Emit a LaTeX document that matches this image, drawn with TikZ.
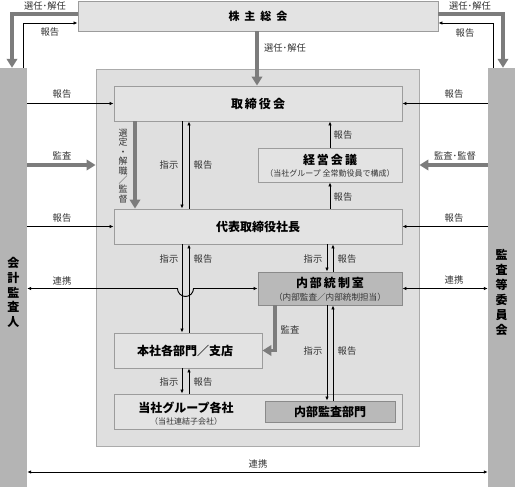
\documentclass[tikz,border=0pt]{standalone}
\usepackage{fontspec}
\setmainfont{Noto Sans CJK JP}
\usetikzlibrary{arrows.meta,calc}
\definecolor{barfill}{HTML}{B4B4B4}
\definecolor{contfill}{HTML}{DFDFDF}
\definecolor{contline}{HTML}{ABABAB}
\definecolor{boxfill}{HTML}{E3E3E3}
\definecolor{boxline}{HTML}{9C9C9C}
\definecolor{darkfill}{HTML}{B9B9B9}
\definecolor{darkline}{HTML}{8A8A8A}
\definecolor{thickgray}{HTML}{7C7C7C}
\definecolor{lbl}{HTML}{333333}
\tikzset{
  box/.style={draw=boxline,fill=boxfill,line width=0.9pt,inner sep=0pt},
  darkbox/.style={draw=darkline,fill=darkfill,line width=0.9pt,inner sep=0pt},
  bar/.style={fill=barfill,inner sep=0pt},
  title/.style={font=\fontsize{12}{14}\selectfont\bfseries,text=black},
  lab/.style={font=\fontsize{9.3}{10}\selectfont,text=lbl,inner sep=0pt},
  sub/.style={font=\fontsize{8}{9}\selectfont,text=lbl,inner sep=0pt},
  thinarr/.style={line width=0.9pt,-{Latex[length=4pt,width=3.5pt]}},
  twoarr/.style={line width=0.9pt,{Latex[length=4pt,width=3.5pt]}-{Latex[length=4pt,width=3.5pt]}},
  thickarr/.style={draw=thickgray,line width=3.6pt,-{Triangle[length=9pt,width=10.5pt]}},
}
\begin{document}
\begin{tikzpicture}[x=1pt,y=-1pt]
\useasboundingbox (0,0) rectangle (515,487);
% bars and container
\node[bar,minimum width=27,minimum height=419] (leftbar) at (13.5,277.5) {};
\node[bar,minimum width=27,minimum height=419] (rightbar) at (501.5,277.5) {};
\node[draw=contline,fill=contfill,line width=0.9pt,minimum width=323,minimum height=377] (cont) at (257.5,257.5) {};
\node[font=\fontsize{12}{14.8}\selectfont\bfseries,align=center,inner sep=0pt] at (13.5,292.5) {会\\計\\監\\査\\人};
\node[font=\fontsize{12}{15}\selectfont\bfseries,align=center,inner sep=0pt] at (501.5,292.5) {監\\査\\等\\委\\員\\会};
% boxes
\node[box,minimum width=360,minimum height=30] (share) at (258,16) {};
\node[font=\fontsize{11}{13}\selectfont\bfseries] at (258,16) {株\hspace{5pt}主\hspace{5pt}総\hspace{5pt}会};
\node[box,minimum width=288,minimum height=35] (board) at (258,103.5) {};
\node[title] at (258,103.5) {取\hspace{2pt}締\hspace{2pt}役\hspace{2pt}会};
\node[box,minimum width=144,minimum height=34] (mgmt) at (330,165) {};
\node[title] at (330,160) {経\hspace{2pt}営\hspace{2pt}会\hspace{2pt}議};
\node[sub] at (330,173.5) {（当社グループ 全常勤役員で構成）};
\node[box,minimum width=288,minimum height=35] (pres) at (258,226.5) {};
\node[title] at (258,226.5) {代表取締役社長};
\node[darkbox,minimum width=144,minimum height=33] (ic) at (330,288.5) {};
\node[title] at (330,283) {内\hspace{2pt}部\hspace{2pt}統\hspace{2pt}制\hspace{2pt}室};
\node[sub,font=\fontsize{8.6}{9}\selectfont] at (330,297) {（内部監査／内部統制担当）};
\node[box,minimum width=148,minimum height=35] (hq) at (188,350.5) {};
\node[title] at (185,350.5) {本社各部門／支店};
\node[box,minimum width=288,minimum height=35] (grp) at (258,411.5) {};
\node[title] at (186,407.5) {当社グループ各社};
\node[sub] at (186,421.5) {（当社連結子会社）};
\node[darkbox,minimum width=130,minimum height=21] (ia) at (330,411.5) {};
\node[title] at (330,411.5) {内部監査部門};
% reference coordinates
\coordinate (xa) at (182,0);
\coordinate (xb) at (189,0);
\coordinate (xc) at (327,0);
\coordinate (xd) at (333,0);
\coordinate (xs) at (135,0);
\coordinate (xm) at (275,0);
\coordinate (yb) at (0,472);
\coordinate (jmp) at (185.5,0);
% top arrows
\draw[thickarr] ([yshift=2pt]share.west) -| ([xshift=-1.5pt]leftbar.north);
\draw[thinarr] ([xshift=9.5pt]leftbar.north) |- ([yshift=-7pt]share.west);
\draw[thickarr] ([yshift=2pt]share.east) -| ([xshift=1.5pt]rightbar.north);
\draw[thinarr] ([xshift=-8.5pt]rightbar.north) |- ([yshift=-7pt]share.east);
\draw[thickarr] ([xshift=-1pt]share.south) -- ([xshift=-1pt]board.north);
\node[lab] at (45,6) {選任･解任};
\node[lab] at (50,32) {報告};
\node[lab] at (470,6) {選任･解任};
\node[lab] at (465,33) {報告};
\node[lab] at (285,48) {選任･解任};
% left bar arrows
\draw[thinarr] (leftbar.east |- board.west) -- (board.west);
\draw[thickarr] (leftbar.east |- mgmt.west) -- (cont.west |- mgmt.west);
\draw[thinarr] (leftbar.east |- pres.west) -- (pres.west);
\node[lab] at (62,94) {報告};
\node[lab] at (62,156) {監査};
\node[lab] at (62,218) {報告};
% right bar arrows
\draw[thinarr] (rightbar.west |- board.east) -- (board.east);
\draw[thickarr] (rightbar.west |- mgmt.east) -- (cont.east |- mgmt.east);
\draw[thinarr] (rightbar.west |- pres.east) -- (pres.east);
\node[lab] at (454,94) {報告};
\node[lab] at (455,156) {監査･監督};
\node[lab] at (454,218) {報告};
% board <-> president
\draw[thickarr] (board.south -| xs) -- (pres.north -| xs);
\node[lab,align=center,font=\fontsize{9}{9.4}\selectfont] at (123,166) {選\\定\\・\\解\\職\\／\\監\\督};
\draw[thinarr] (board.south -| xa) -- (pres.north -| xa);
\draw[thinarr] (pres.north -| xb) -- (board.south -| xb);
\node[lab] at (169,165) {指示};
\node[lab] at (203,165) {報告};
\draw[thinarr] (mgmt.north) -- (board.south -| mgmt.north);
\draw[thinarr] (pres.north -| mgmt.south) -- (mgmt.south);
\node[lab] at (343,135) {報告};
\node[lab] at (343,197) {報告};
% president -> hq / ic
\draw[thinarr] (pres.south -| xa) -- (hq.north -| xa);
\draw[thinarr] (hq.north -| xb) -- (pres.south -| xb);
\node[lab] at (169,259) {指示};
\node[lab] at (203,259) {報告};
\draw[thinarr] (pres.south -| xc) -- (ic.north -| xc);
\draw[thinarr] (ic.north -| xd) -- (pres.south -| xd);
\node[lab] at (313,259) {指示};
\node[lab] at (347,259) {報告};
% ic -> hq audit, ic <-> ia
\draw[thickarr] (ic.south -| xm) |- (hq.east);
\node[lab] at (290,330) {監査};
\draw[thinarr] (ic.south -| xc) -- (ia.north -| xc);
\draw[thinarr] (ia.north -| xd) -- (ic.south -| xd);
\node[lab] at (313,351) {指示};
\node[lab] at (347,351) {報告};
% hq <-> grp
\draw[thinarr] (hq.south -| xa) -- (grp.north -| xa);
\draw[thinarr] (grp.north -| xb) -- (hq.south -| xb);
\node[lab] at (169,382) {指示};
\node[lab] at (203,382) {報告};
% cooperation lines
\draw[twoarr] (leftbar.east |- ic.west) -- ($(jmp |- ic.west)+(-8,0)$) arc[start angle=180,end angle=360,radius=8pt] -- (ic.west);
\node[lab] at (62,281) {連携};
\draw[twoarr] (ic.east) -- (rightbar.west |- ic.east);
\node[lab] at (454,280) {連携};
\draw[twoarr] (leftbar.east |- yb) -- (rightbar.west |- yb);
\node[lab] at (258,464) {連携};
\end{tikzpicture}
\end{document}
